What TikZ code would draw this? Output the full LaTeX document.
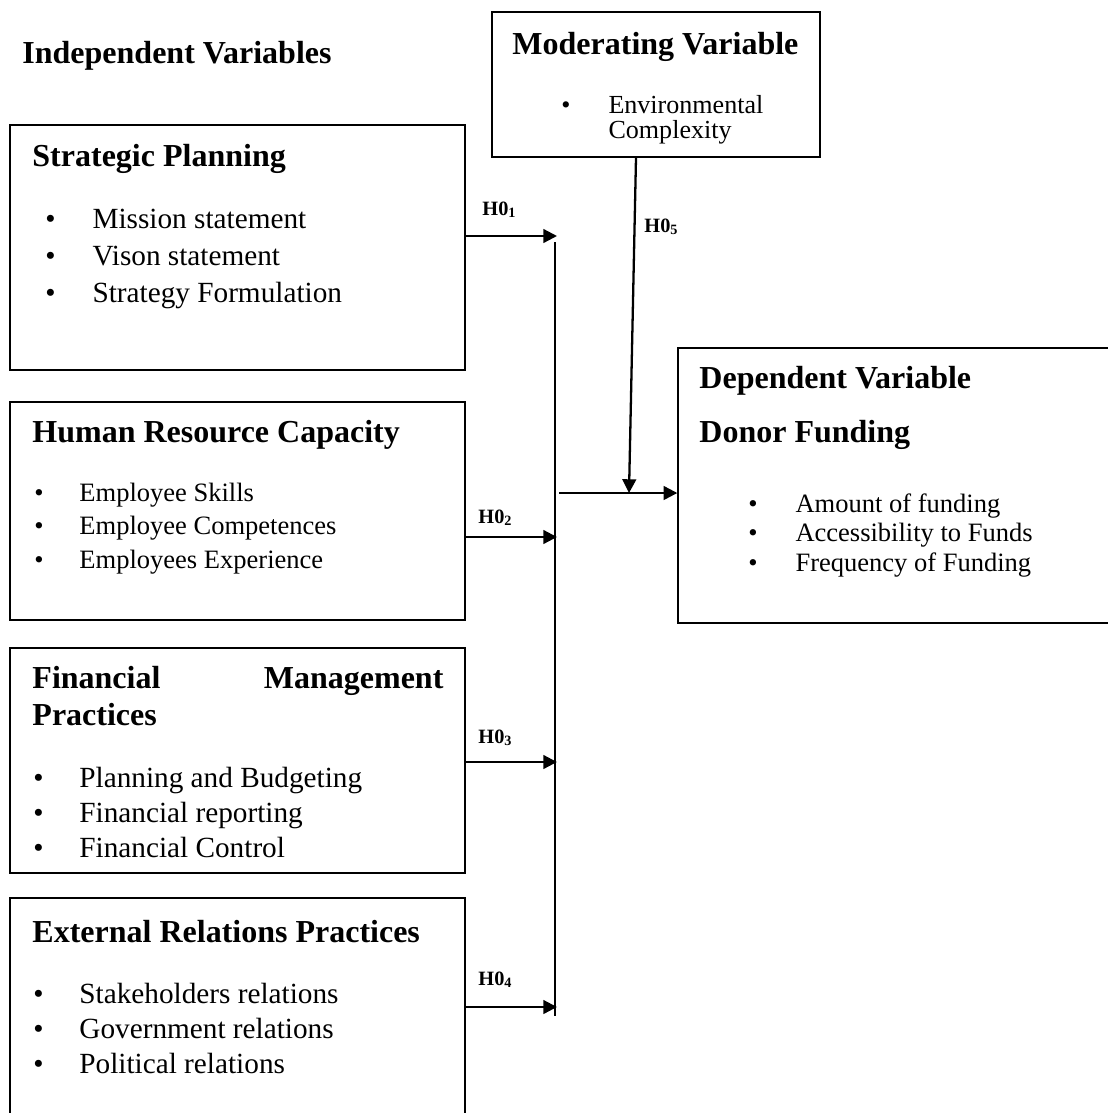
\documentclass[tikz,border=0pt]{standalone}
\usepackage{fontspec}
\setmainfont{Liberation Serif}
\usetikzlibrary{positioning}
\usetikzlibrary{fit}
\usetikzlibrary{calc}
\usetikzlibrary{arrows.meta}
\tikzset{>={Triangle[length=6pt,width=6pt]}}
\tikzset{box/.style={draw,line width=0.6pt,inner sep=0pt}}
\tikzset{hd/.style={anchor=base west,inner sep=0pt,font=\fontsize{14}{16.6}\selectfont\bfseries}}
\tikzset{hyp/.style={anchor=base west,inner sep=0pt,font=\fontsize{8.9}{10}\selectfont\bfseries}}
\tikzset{lst/.style={anchor=base west,inner sep=0pt}}
\tikzset{ln/.style={line width=1pt}}

\begin{document}
\begin{tikzpicture}[x=0.4375pt,y=-0.4375pt]
    \useasboundingbox (0,0) rectangle (1108,1113);

    % boxes
    \node[box,fit={(10,125)(465,370)}] (sp) {};
    \node[box,fit={(10,402)(465,620)}] (hr) {};
    \node[box,fit={(10,648)(465,873)}] (fm) {};
    \node[box,fit={(10,898)(465,1125)}] (er) {};
    \node[box,fit={(492,12)(820,157)}] (mv) {};
    \node[box,fit={(678,348)(1120,623)}] (dv) {};

    % titles
    \node[hd] (iv) at (22,63) {Independent Variables};
    \node[hd] (mvt) at (512,54) {Moderating Variable};
    \node[hd] (spt) at (32,166) {Strategic Planning};
    \node[hd] (hrt) at (32,442) {Human Resource Capacity};
    \node[hd] (fmt) at (32,688) {\begin{tabular}[t]{@{}l@{}}\makebox[179.8pt]{Financial\hfill Management}\\ Practices\end{tabular}};
    \node[hd] (ert) at (32,942) {External Relations Practices};
    \node[hd] (dvt) at (699,388) {Dependent Variable};
    \node[hd,below=24pt of dvt.base west,anchor=base west] (dft) {Donor Funding};

    % lists
    \node[lst,font=\fontsize{11.4}{10.5}\selectfont] (mvl) at (561,113)
        {\begin{tabular}[t]{@{}p{20.6pt}@{}l@{}}\textbullet & Environmental\\ & Complexity\end{tabular}};
    \node[lst,font=\fontsize{12.8}{16.2}\selectfont] (spl) at (45,228)
        {\begin{tabular}[t]{@{}p{20.6pt}@{}l@{}}\textbullet & Mission statement\\ \textbullet & Vison statement\\ \textbullet & Strategy Formulation\end{tabular}};
    \node[lst,font=\fontsize{11.6}{14.7}\selectfont] (hrl) at (34,501)
        {\begin{tabular}[t]{@{}p{19.7pt}@{}l@{}}\textbullet & Employee Skills\\ \textbullet & Employee Competences\\ \textbullet & Employees Experience\end{tabular}};
    \node[lst,font=\fontsize{12.8}{15.5}\selectfont] (fml) at (33,787)
        {\begin{tabular}[t]{@{}p{20.1pt}@{}l@{}}\textbullet & Planning and Budgeting\\ \textbullet & Financial reporting\\ \textbullet & Financial Control\end{tabular}};
    \node[lst,font=\fontsize{12.8}{15.5}\selectfont] (erl) at (33,1003)
        {\begin{tabular}[t]{@{}p{20.1pt}@{}l@{}}\textbullet & Stakeholders relations\\ \textbullet & Government relations\\ \textbullet & Political relations\end{tabular}};
    \node[lst,font=\fontsize{11.6}{13.1}\selectfont] (dvl) at (748,512)
        {\begin{tabular}[t]{@{}p{20.6pt}@{}l@{}}\textbullet & Amount of funding\\ \textbullet & Accessibility to Funds\\ \textbullet & Frequency of Funding\end{tabular}};

    % hypotheses
    \node[hyp] (h1) at (482,215) {H0\textsubscript{1}};
    \node[hyp] (h2) at (478,523) {H0\textsubscript{2}};
    \node[hyp] (h3) at (478,743) {H0\textsubscript{3}};
    \node[hyp] (h4) at (478,985) {H0\textsubscript{4}};
    \node[hyp] (h5) at (644,232) {H0\textsubscript{5}};

    % connectors
    \coordinate (top) at (555,242);
    \coordinate (bot) at (555,1016);
    \draw[line width=0.8pt] (top) -- (bot);
    \coordinate (j1) at (557,236);
    \coordinate (j2) at (557,537);
    \coordinate (j3) at (557,762);
    \coordinate (j4) at (557,1007);
    \draw[ln,->] (sp.east |- j1) -- (j1);
    \draw[ln,->] (hr.east |- j2) -- (j2);
    \draw[ln,->] (fm.east |- j3) -- (j3);
    \draw[ln,->] (er.east |- j4) -- (j4);
    \coordinate (jdv) at (559,493);
    \draw[ln,->] (jdv) -- (jdv -| dv.west);
    \coordinate (mend) at (629,493);
    \draw[ln,->] ($(mv.south)+(-20,0)$) -- (mend);
\end{tikzpicture}
\end{document}
